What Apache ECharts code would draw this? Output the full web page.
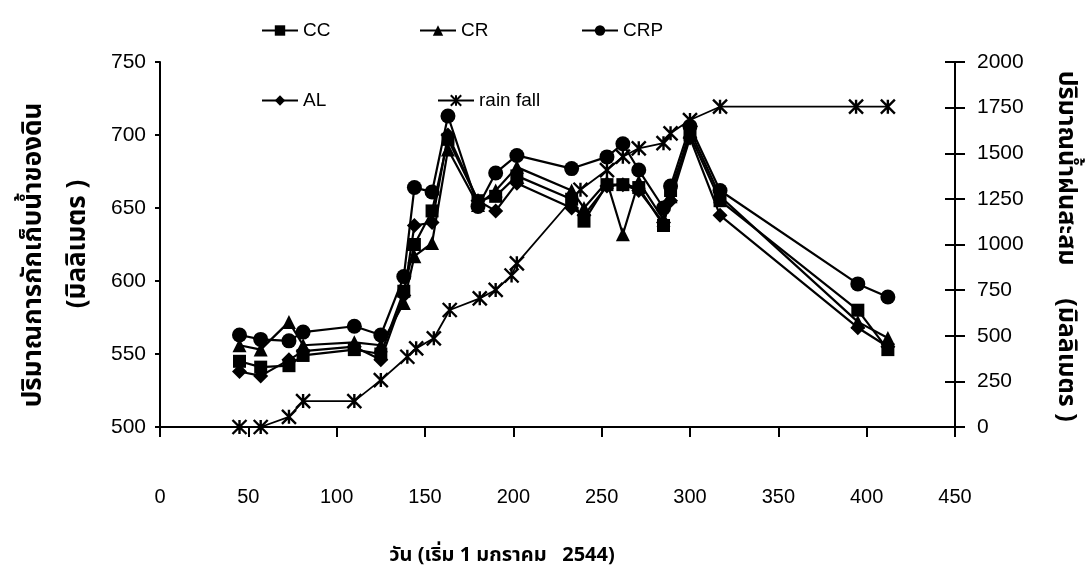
<!DOCTYPE html>
<html>
<head>
<meta charset="utf-8">
<script src="https://cdn.jsdelivr.net/npm/echarts@6/dist/echarts.min.js"></script>
<style>
html,body{margin:0;padding:0;background:#fff;}
#chart{width:1092px;height:583px;}
</style>
</head>
<body>
<div id="chart"></div>
<script>
// Sampling days (counted from 1 January 2544) for the soil water series
const days = [45, 57, 73, 81, 110, 125, 138, 144, 154, 163, 180, 190, 202, 233, 240, 253, 262, 271, 285, 289, 300, 317, 395, 412];
// Soil water storage (mm) per treatment
const cc  = [545, 541, 542, 549, 553, 550, 593, 625, 648, 697, 655, 658, 672, 656, 641, 666, 666, 664, 638, 662, 700, 655, 580, 553];
const cr  = [556, 553, 572, 556, 558, 556, 585, 617, 626, 690, 652, 662, 678, 662, 650, 668, 632, 668, 642, 658, 703, 658, 572, 561];
const crp = [563, 560, 559, 565, 569, 563, 603, 664, 661, 713, 651, 674, 686, 677, null, 685, 694, 676, 650, 665, 706, 662, 598, 589];
const al  = [538, 535, 546, 552, 555, 546, 590, 638, 640, 700, 655, 648, 667, 650, 645, 665, 666, 662, 640, 655, 698, 645, 568, 555];
// Cumulative rainfall (mm)
const rainDays = [45, 57, 73, 81, 110, 125, 140, 145, 155, 164, 181, 190, 199, 202, 238, 253, 262, 271, 285, 289, 300, 317, 394, 412];
const rainFall = [0, 0, 56, 142, 142, 257, 385, 431, 486, 641, 705, 751, 830, 897, 1300, 1408, 1481, 1527, 1555, 1609, 1682, 1755, 1755, 1755];

const pairs = (xs, ys) => xs.map((x, i) => [x, ys[i]]);

const FONT = 'Liberation Sans, Arial, sans-serif';
const THAI = 'Noto Sans Thai, Tahoma, Loma, Garuda, DejaVu Sans, sans-serif';
const ASTERISK = 'path://M0,0L10,10M10,0L0,10M5,0L5,10M5,10';

const lineStyle = {color: '#000', width: 2.2};
function soil(name, values, symbol, size) {
  return {
    name, type: 'line', data: pairs(days, values), yAxisIndex: 0,
    symbol, symbolSize: size, connectNulls: true,
    lineStyle, itemStyle: {color: '#000'}, z: 3
  };
}

const legendBase = {
  itemWidth: 36, itemHeight: 13, itemGap: 4,
  textStyle: {fontFamily: FONT, fontSize: 19, color: '#000'}
};

const chart = echarts.init(document.getElementById('chart'), null, {renderer: 'canvas'});
chart.setOption({
  backgroundColor: '#fff',
  animation: false,
  grid: {left: 160, right: 137, top: 62, bottom: 156, containLabel: false},
  legend: [
    Object.assign({data: ['CC'], left: 256, top: 16}, legendBase),
    Object.assign({data: ['CR'], left: 414, top: 16}, legendBase),
    Object.assign({data: ['CRP'], left: 576, top: 16}, legendBase),
    Object.assign({data: ['AL'], left: 256, top: 86}, legendBase),
    Object.assign({data: ['rain fall'], left: 432, top: 86}, legendBase)
  ],
  xAxis: {
    type: 'value', min: 0, max: 450, interval: 50,
    axisLine: {onZero: false, lineStyle: {color: '#000', width: 2}},
    axisTick: {length: 10, lineStyle: {color: '#000', width: 2}},
    splitLine: {show: false},
    axisLabel: {margin: 60, color: '#000', fontFamily: FONT, fontSize: 20}
  },
  yAxis: [
    {
      type: 'value', min: 500, max: 750, interval: 50, position: 'left',
      axisLine: {show: true, lineStyle: {color: '#000', width: 2}},
      axisTick: {show: true, length: 5, lineStyle: {color: '#000', width: 2}},
      splitLine: {show: false},
      axisLabel: {margin: 14, color: '#000', fontFamily: FONT, fontSize: 21}
    },
    {
      type: 'value', min: 0, max: 2000, interval: 250, position: 'right',
      axisLine: {show: true, lineStyle: {color: '#000', width: 2}},
      axisTick: {show: true, length: 10, lineStyle: {color: '#000', width: 2}},
      splitLine: {show: false},
      axisLabel: {margin: 22, color: '#000', fontFamily: FONT, fontSize: 21, formatter: v => String(v)}
    },
    {
      // inner half of the crossing tick marks on the rainfall axis
      type: 'value', min: 0, max: 2000, interval: 250, position: 'right',
      axisLine: {show: false},
      axisTick: {show: true, inside: true, length: 10, lineStyle: {color: '#000', width: 2}},
      axisLabel: {show: false},
      splitLine: {show: false}
    }
  ],
  series: [
    {
      name: 'rain fall', type: 'line', yAxisIndex: 1,
      data: pairs(rainDays, rainFall),
      symbol: ASTERISK, symbolSize: 14,
      lineStyle: {color: '#000', width: 1.8},
      itemStyle: {color: '#000', borderColor: '#000', borderWidth: 2.4},
      z: 2
    },
    soil('CC', cc, 'rect', 13),
    soil('CR', cr, 'triangle', 14),
    soil('CRP', crp, 'circle', 15),
    soil('AL', al, 'diamond', 15)
  ],
  graphic: [
    {
      type: 'text', x: 36, y: 255, rotation: Math.PI / 2,
      style: {text: 'ปริมาณการกักเก็บน้ำของดิน', font: 'bold 26px ' + THAI, fill: '#000', align: 'center', verticalAlign: 'middle'}
    },
    {
      type: 'text', x: 80, y: 244, rotation: Math.PI / 2,
      style: {text: '(มิลลิเมตร )', font: 'bold 26px ' + THAI, fill: '#000', align: 'center', verticalAlign: 'middle'}
    },
    {
      type: 'text', x: 1064, y: 168, rotation: -Math.PI / 2,
      style: {text: 'ปริมาณน้ำฝนสะสม', font: 'bold 25px ' + THAI, fill: '#000', align: 'center', verticalAlign: 'middle'}
    },
    {
      type: 'text', x: 1064, y: 360, rotation: -Math.PI / 2,
      style: {text: '(มิลลิเมตร )', font: 'bold 25px ' + THAI, fill: '#000', align: 'center', verticalAlign: 'middle'}
    },
    {
      type: 'text', x: 502, y: 557,
      style: {text: 'วัน (เริ่ม 1 มกราคม   2544)', font: 'bold 20px ' + THAI, fill: '#000', align: 'center', verticalAlign: 'middle'}
    }
  ]
});
</script>
</body>
</html>
